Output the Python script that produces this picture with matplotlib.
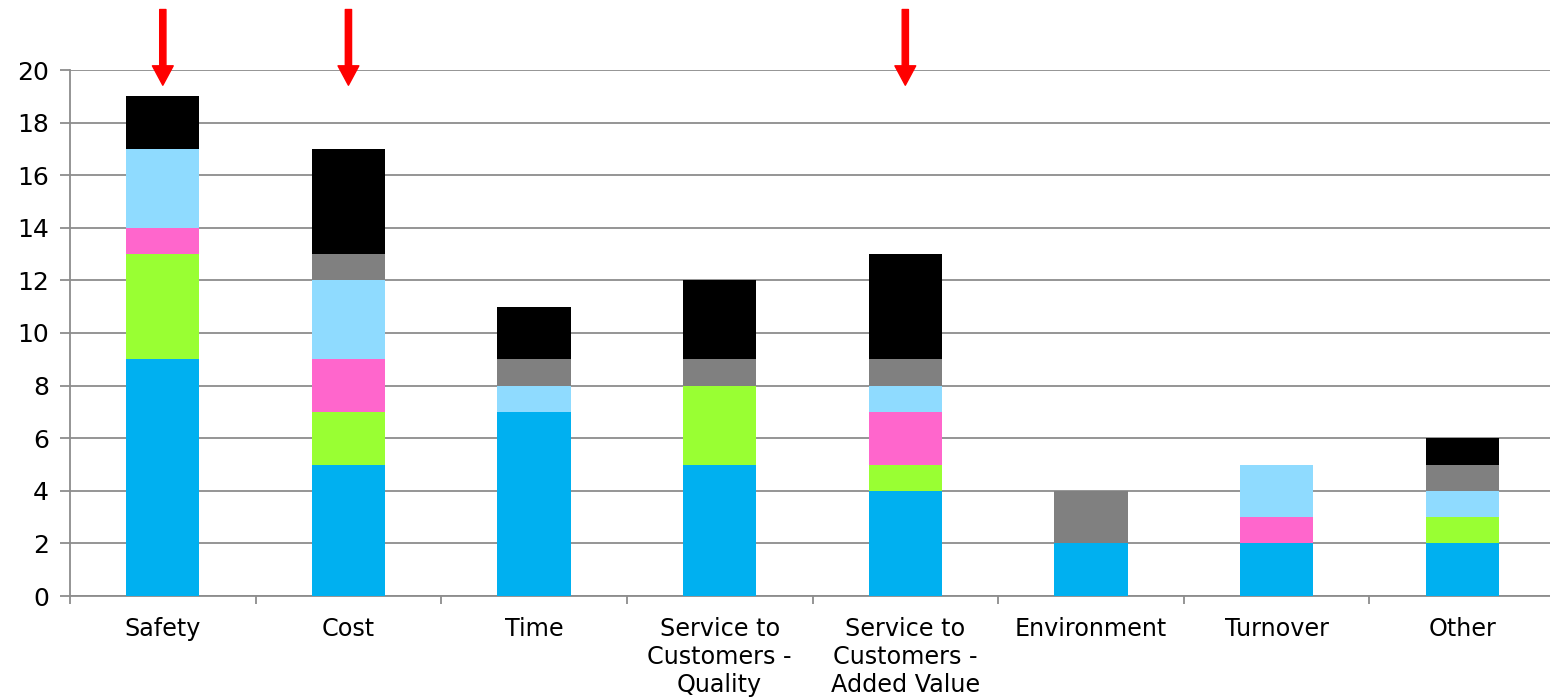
import numpy as np
import matplotlib
matplotlib.use('Agg')
import matplotlib.pyplot as plt

categories = ['Safety', 'Cost', 'Time', 'Service to\nCustomers -\nQuality',
              'Service to\nCustomers -\nAdded Value', 'Environment', 'Turnover', 'Other']

# stacked series, bottom to top
blue = [9, 5, 7, 5, 4, 2, 2, 2]
green = [4, 2, 0, 3, 1, 0, 0, 1]
pink = [1, 2, 0, 0, 2, 0, 1, 0]
light_blue = [3, 3, 1, 0, 1, 0, 2, 1]
gray = [0, 1, 1, 1, 1, 2, 0, 1]
black = [2, 4, 2, 3, 4, 0, 0, 1]

series = [blue, green, pink, light_blue, gray, black]
colors = ['#00B0F0', '#99FF33', '#FF66CC', '#8FDBFF', '#808080', '#000000']

# categories marked with a red arrow
arrow_idx = [0, 1, 4]

plt.rcParams['font.family'] = ['DejaVu Sans']
fig = plt.figure(figsize=(15.5, 7), dpi=100)
ax = fig.add_axes([70/1550, 1-596/700, 1485/1550, (596-70)/700])

x = np.arange(len(categories))
bottom = np.zeros(len(categories))
for vals, c in zip(series, colors):
    ax.bar(x, vals, width=0.395, bottom=bottom, color=c, zorder=3)
    bottom += np.array(vals)

ax.set_xlim(-0.5, len(categories) - 0.5)
ax.set_ylim(0, 20)
ax.set_yticks(range(0, 21, 2))
ax.yaxis.grid(True, color='#8C8C8C', linewidth=1.3, zorder=0)
ax.set_axisbelow(True)

ax.set_xticks(x)
ax.set_xticklabels(categories, fontsize=17.2, linespacing=1.22)
ax.set_xticks(np.arange(-0.5, len(categories)), minor=True)
ax.tick_params(axis='x', which='major', length=0, pad=15)
ax.tick_params(axis='x', which='minor', length=6, color='#8C8C8C', width=1.3)
ax.tick_params(axis='y', labelsize=18, length=7, color='#8C8C8C', width=1.3, pad=8)

for s in ['top', 'right']:
    ax.spines[s].set_visible(False)
for s in ['left', 'bottom']:
    ax.spines[s].set_color('#8C8C8C')
    ax.spines[s].set_linewidth(1.3)

for i in arrow_idx:
    ax.annotate('', xy=(i, 19.42), xytext=(i, 22.3),
                arrowprops=dict(facecolor='#FF0000', edgecolor='#FF0000',
                                width=4.5, headwidth=15, headlength=14),
                annotation_clip=False)

fig.savefig('out.png', dpi=100)
